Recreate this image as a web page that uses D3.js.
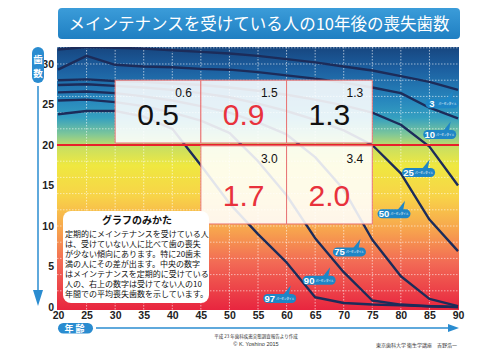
<!DOCTYPE html>
<html>
<head>
<meta charset="utf-8">
<script src="https://cdn.jsdelivr.net/npm/d3@7"></script>
<style>
  body { margin: 0; background: #fff; }
  svg { display: block; }
</style>
</head>
<body>
<div id="chart"></div>
<script>
// ages on the x axis, remaining teeth for each percentile curve
const ages = [20, 25, 30, 35, 40, 45, 50, 55, 60, 65, 70, 75, 80, 85, 90];
const p3  = [31.8, 32.1, 32.0, 31.9, 31.7, 31.5, 31.3, 31.0, 30.6, 30.2, 29.7, 29.2, 28.5, 27.8, 26.8];
const p10 = [29.3, 31.0, 29.9, 29.7, 29.6, 29.4, 29.3, 29.0, 28.6, 28.2, 27.7, 27.1, 26.4, 24.6, 23.3];
const p25 = [28.0, 28.1, 27.9, 27.8, 27.6, 27.4, 27.1, 26.7, 26.2, 25.6, 24.9, 24.0, 22.5, 19.8, 15.0];
const p50 = [27.4, 27.5, 27.3, 27.1, 26.8, 26.4, 25.9, 25.1, 24.2, 23.1, 21.8, 20.0, 16.5, 10.8, 6.9];
const p75 = [26.5, 26.6, 26.4, 26.0, 25.5, 24.8, 24.0, 22.8, 21.3, 18.5, 14.5, 8.3, 3.8, 1.0, 0.1];
const p90 = [25.5, 25.6, 25.3, 24.8, 24.0, 23.0, 21.5, 18.0, 13.8, 8.5, 4.3, 0.8, 0.3, 0.1, 0];
const p97 = [23.8, 24.2, 24.2, 23.5, 22.0, 17.5, 12.8, 9.0, 5.5, 1.2, 0.5, 0.3, 0.2, 0.1, 0];
const percentiles = [3, 10, 25, 50, 75, 90, 97];
const curves = [p3, p10, p25, p50, p75, p90, p97];
// where each percentile tag sits (age, teeth)
const tagAge   = [87.2, 86.8, 83.1, 78.8, 71.0, 65.7, 58.8];
const tagTeeth = [25.1, 21.3, 16.6, 11.5, 6.8, 3.3, 1.05];

// the five cells: age band start, row, mean loss with / without maintenance
const cellAge = [30, 45, 60, 45, 60];
const cellRow = [0, 0, 0, 1, 1];
const withCare = [0.5, 0.9, 1.3, 1.7, 2.0];
const withoutCare = [0.6, 1.5, 1.3, 3.0, 3.4];
const highlighted = [false, true, false, true, true];
const rowTeeth = [[20.25, 28.0], [10.25, 19.9]];

const xTicks = d3.range(20, 95, 5);
const yTicks = d3.range(0, 35, 5);

const note = [
  "定期的にメインテナンスを受けている人",
  "は、受けていない人に比べて歯の喪失",
  "が少ない傾向にあります。特に20歯未",
  "満の人にその差が出ます。中央の数字",
  "はメインテナンスを定期的に受けている",
  "人の、右上の数字は受けてない人の10",
  "年間での平均喪失歯数を示しています。"
];

const W = 500, H = 354;
const pLeft = 57, pRight = 459, pTop = 47, pBottom = 310;
const jp = "'Noto Sans CJK JP', 'Noto Sans', sans-serif";

const x = d3.scaleLinear().domain([20, 90]).range([58, 458]);
const y = d3.scaleLinear().domain([0, 32.1]).range([307, 47]);

const svg = d3.select("#chart").append("svg")
  .attr("width", W).attr("height", H);

const defs = svg.append("defs");
const grad = defs.append("linearGradient").attr("id", "bg")
  .attr("x1", 0).attr("y1", 0).attr("x2", 0).attr("y2", 1);
[[0, "#17467f"], [0.08, "#1c5e9f"], [0.2, "#2786bd"], [0.27, "#35a0c0"],
 [0.33, "#7cc69a"], [0.38, "#c8df62"], [0.45, "#efe840"], [0.57, "#f8d348"],
 [0.7, "#f7a24e"], [0.82, "#f26a55"], [1, "#e8253f"]]
  .forEach(s => grad.append("stop").attr("offset", s[0]).attr("stop-color", s[1]));

const bannerGrad = defs.append("linearGradient").attr("id", "banner")
  .attr("x1", 0).attr("y1", 0).attr("x2", 0).attr("y2", 1);
bannerGrad.append("stop").attr("offset", 0).attr("stop-color", "#3b9cd9");
bannerGrad.append("stop").attr("offset", 1).attr("stop-color", "#1f7fc2");

defs.append("clipPath").attr("id", "plotClip")
  .append("rect").attr("x", pLeft).attr("y", pTop)
  .attr("width", pRight - pLeft).attr("height", pBottom - pTop);

// title banner
svg.append("rect").attr("x", 58).attr("y", 8).attr("width", 402).attr("height", 31)
  .attr("rx", 4).attr("fill", "url(#banner)");
svg.append("text").attr("x", 259).attr("y", 30)
  .attr("text-anchor", "middle").attr("fill", "#fff")
  .style("font-family", jp).style("font-size", "16.5px")
  .text("メインテナンスを受けている人の10年後の喪失歯数");

// plot background
svg.append("rect").attr("x", pLeft).attr("y", pTop)
  .attr("width", pRight - pLeft).attr("height", pBottom - pTop)
  .attr("fill", "url(#bg)");

const plot = svg.append("g").attr("clip-path", "url(#plotClip)");

// dotted grid
plot.append("g").selectAll("line").data(d3.range(25, 90, 5)).join("line")
  .attr("x1", d => x(d)).attr("x2", d => x(d))
  .attr("y1", pTop).attr("y2", pBottom)
  .attr("stroke", "#fff").attr("stroke-opacity", 0.6)
  .attr("stroke-dasharray", "1.5,1.5");
plot.append("g").selectAll("line").data(d3.range(2, 33, 2)).join("line")
  .attr("x1", pLeft).attr("x2", pRight)
  .attr("y1", d => y(d)).attr("y2", d => y(d))
  .attr("stroke", "#fff").attr("stroke-opacity", 0.55)
  .attr("stroke-dasharray", "1.5,1.5");

// percentile curves
const line = d3.line().x(d => x(d[0])).y(d => y(d[1]));
plot.append("g").selectAll("path").data(curves).join("path")
  .attr("d", c => line(ages.map((a, i) => [a, c[i]])))
  .attr("fill", "none").attr("stroke", "#1c2c5a")
  .attr("stroke-width", 2.4).attr("stroke-linejoin", "round");

// 20 teeth line
plot.append("line").attr("x1", pLeft).attr("x2", pRight)
  .attr("y1", y(20)).attr("y2", y(20))
  .attr("stroke", "#e8202a").attr("stroke-width", 2);

// cells
const cells = svg.append("g").selectAll("g").data(withCare).join("g");
cells.append("rect")
  .attr("x", (d, i) => x(cellAge[i]))
  .attr("y", (d, i) => y(rowTeeth[cellRow[i]][1]))
  .attr("width", (d, i) => x(cellAge[i] + 15) - x(cellAge[i]))
  .attr("height", (d, i) => y(rowTeeth[cellRow[i]][0]) - y(rowTeeth[cellRow[i]][1]))
  .attr("fill", "#fff").attr("fill-opacity", 0.88)
  .attr("stroke", "#e87474").attr("stroke-width", 1);
cells.append("text")
  .attr("x", (d, i) => x(cellAge[i] + 7.5))
  .attr("y", (d, i) => y(rowTeeth[cellRow[i]][0]) - 18)
  .attr("text-anchor", "middle")
  .attr("fill", (d, i) => highlighted[i] ? "#e8323c" : "#111")
  .style("font-family", "'Liberation Sans', Arial, sans-serif")
  .style("font-size", "30px")
  .text(d => d.toFixed(1));
cells.append("text")
  .attr("x", (d, i) => x(cellAge[i] + 15) - 9)
  .attr("y", (d, i) => y(rowTeeth[cellRow[i]][1]) + 17)
  .attr("text-anchor", "end").attr("fill", "#111")
  .style("font-family", "'Liberation Sans', Arial, sans-serif")
  .style("font-size", "12px")
  .text((d, i) => withoutCare[i].toFixed(1));

// percentile tags
const tags = svg.append("g").selectAll("g").data(percentiles).join("g")
  .attr("transform", (d, i) => `translate(${x(tagAge[i])},${y(tagTeeth[i])})`);
tags.append("path").attr("d", "M3,-3 L11,-13 L9,-3 Z").attr("fill", "#1e86c6");
tags.append("rect").attr("x", -16.5).attr("y", -4.5).attr("width", 33).attr("height", 9)
  .attr("rx", 4.5).attr("fill", "#1e86c6");
tags.append("text").attr("x", -10).attr("y", 3.4).attr("text-anchor", "middle")
  .attr("fill", "#fff").style("font-family", "'Liberation Sans', sans-serif")
  .style("font-weight", "bold").style("font-size", "9.5px")
  .text(d => d);
tags.append("text").attr("x", -3.5).attr("y", 1.4)
  .attr("textLength", 18).attr("lengthAdjust", "spacingAndGlyphs")
  .attr("fill", "#fff").style("font-family", jp).style("font-size", "3px")
  .text("パーセンタイル");

// note box
svg.append("rect").attr("x", 63).attr("y", 211).attr("width", 146).attr("height", 92)
  .attr("rx", 8).attr("fill", "#fff");
svg.append("text").attr("x", 137).attr("y", 224).attr("text-anchor", "middle")
  .attr("fill", "#111").style("font-family", jp)
  .style("font-weight", "bold").style("font-size", "10px")
  .text("グラフのみかた");
svg.append("g").selectAll("text").data(note).join("text")
  .attr("x", 65).attr("y", (d, i) => 236.5 + i * 10.1)
  .attr("fill", "#111").style("font-family", jp).style("font-size", "8px")
  .text(d => d);

// axes
const yAxis = svg.append("g").attr("transform", `translate(${pLeft},0)`)
  .call(d3.axisLeft(y).tickValues(yTicks).tickSize(0).tickPadding(3));
const xAxis = svg.append("g").attr("transform", `translate(0,${pBottom})`)
  .call(d3.axisBottom(x).tickValues(xTicks).tickSize(0).tickPadding(1.5));
[yAxis, xAxis].forEach(a => {
  a.select(".domain").remove();
  a.selectAll("text").attr("fill", "#222")
    .style("font-family", "'Liberation Sans', Arial, sans-serif")
    .style("font-weight", "bold").style("font-size", "10.5px");
});

// y axis label with arrow
const blue = "#2a8cd0";
svg.append("rect").attr("x", 32).attr("y", 47).attr("width", 12).attr("height", 36)
  .attr("rx", 6).attr("fill", blue);
svg.append("text").attr("x", 38).attr("y", 63).attr("text-anchor", "middle")
  .attr("fill", "#fff").style("font-family", jp).style("font-weight", "bold")
  .style("font-size", "9.5px").text("歯");
svg.append("text").attr("x", 38).attr("y", 77).attr("text-anchor", "middle")
  .attr("fill", "#fff").style("font-family", jp).style("font-weight", "bold")
  .style("font-size", "9.5px").text("数");
svg.append("line").attr("x1", 38).attr("x2", 38).attr("y1", 86).attr("y2", 292)
  .attr("stroke", blue).attr("stroke-width", 1.5);
svg.append("path").attr("d", "M33,290 L43,290 L38,306 Z").attr("fill", blue);

// x axis label with arrow
svg.append("rect").attr("x", 58).attr("y", 323).attr("width", 35).attr("height", 10.5)
  .attr("rx", 5.25).attr("fill", blue);
svg.append("text").attr("x", 75.5).attr("y", 331.5).attr("text-anchor", "middle")
  .attr("fill", "#fff").style("font-family", jp).style("font-weight", "bold")
  .style("font-size", "9px").style("letter-spacing", "2px").text("年齢");
svg.append("line").attr("x1", 96).attr("x2", 450).attr("y1", 328).attr("y2", 328)
  .attr("stroke", blue).attr("stroke-width", 1.5);
svg.append("path").attr("d", "M448,324 L459,328 L448,332 Z").attr("fill", blue);

// footer
svg.append("text").attr("x", 256).attr("y", 338).attr("text-anchor", "middle")
  .attr("fill", "#333").style("font-family", jp).style("font-size", "4.5px")
  .text("平成 23 年歯科疾患実態調査報告より作成");
svg.append("text").attr("x", 256).attr("y", 346).attr("text-anchor", "middle")
  .attr("fill", "#333").style("font-family", "'Liberation Sans', sans-serif")
  .style("font-size", "5.5px").text("© K. Yoshino 2015");
svg.append("text").attr("x", 457).attr("y", 347).attr("text-anchor", "end")
  .attr("fill", "#333").style("font-family", jp).style("font-size", "5px")
  .text("東京歯科大学 衛生学講座　吉野浩一");
</script>
</body>
</html>
